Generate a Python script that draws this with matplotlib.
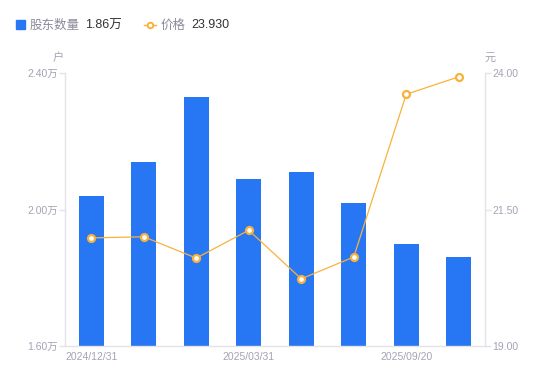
import matplotlib
matplotlib.use("Agg")
import matplotlib.pyplot as plt
from matplotlib.lines import Line2D

plt.rcParams['font.family'] = ['Liberation Sans', 'Noto Sans CJK SC', 'DejaVu Sans']

# Data
tick_labels = ["2024/12/31", "", "", "2025/03/31", "", "", "2025/09/20", ""]
holders = [2.04, 2.14, 2.33, 2.09, 2.11, 2.02, 1.90, 1.86]   # 万户
price = [20.98, 21.00, 20.61, 21.12, 20.23, 20.63, 23.61, 23.93]  # 元
left_ticks = [1.60, 2.00, 2.40]
right_ticks = [19.00, 21.50, 24.00]

BLUE = "#2777F4"
ORANGE = "#F8B23C"
GRAY = "#A3A3B5"
AXIS = "#E3E3E8"

fig = plt.figure(figsize=(5.5, 3.81), dpi=100)
ax = fig.add_axes([65/550, 35/381, 420/550, 273/381])
ax2 = ax.twinx()

x = list(range(len(holders)))
ax.bar(x, holders, width=0.48, color=BLUE, zorder=2)
ax.set_ylim(1.60, 2.40)
ax.set_xlim(-0.5, len(holders) - 0.5)
ax.set_yticks(left_ticks)
ax.set_yticklabels([f"{v:.2f}万" for v in left_ticks])
ax.set_xticks(x)
ax.set_xticklabels(tick_labels)

ax2.plot(x, price, color=ORANGE, lw=0.9, marker='o', ms=5, mfc='white',
         mec=ORANGE, mew=1.6, zorder=3)
ax2.set_ylim(19.0, 24.0)
ax2.set_yticks(right_ticks)
ax2.set_yticklabels([f"{v:.2f}" for v in right_ticks])

for a in (ax, ax2):
    for s in a.spines.values():
        s.set_visible(False)
ax.spines['left'].set_visible(True)
ax.spines['bottom'].set_visible(True)
ax2.spines['right'].set_visible(True)
for s in (ax.spines['left'], ax.spines['bottom'], ax2.spines['right']):
    s.set_color(AXIS)
    s.set_linewidth(1)

ax.tick_params(axis='y', colors=AXIS, labelcolor=GRAY, labelsize=7.5, length=4, width=1, pad=1)
ax.tick_params(axis='x', length=0, labelcolor=GRAY, labelsize=7.5, pad=4)
ax2.tick_params(axis='y', colors=AXIS, labelcolor=GRAY, labelsize=7.5, length=4, width=1, pad=1)

fig.text(58/550, 1 - 58/381, "户", color=GRAY, fontsize=8, ha='center', va='center')
fig.text(490/550, 1 - 58/381, "元", color=GRAY, fontsize=8, ha='center', va='center')

# Legend
LY = 1 - 25.5/381
fig.patches.append(plt.Rectangle((16/550, 1 - 29/381), 9/550, 9/381,
                                 transform=fig.transFigure, color=BLUE))
fig.text(30/550, LY, "股东数量", color="#8A8A9A", fontsize=9, va='center')
fig.text(85/550, LY, "1.86万", color="#333333", fontsize=9, va='center')
fig.lines.append(Line2D([144/550, 156/550], [1 - 24.5/381, 1 - 24.5/381],
                        transform=fig.transFigure, color=ORANGE, lw=1))
fig.lines.append(Line2D([150/550], [1 - 24.5/381], transform=fig.transFigure,
                        marker='o', ms=4, mfc='white', mec=ORANGE, mew=1.4, color=ORANGE))
fig.text(161/550, LY, "价格", color="#8A8A9A", fontsize=9, va='center')
fig.text(191/550, LY, "23.930", color="#333333", fontsize=9, va='center')

fig.savefig("out.png", dpi=100)
